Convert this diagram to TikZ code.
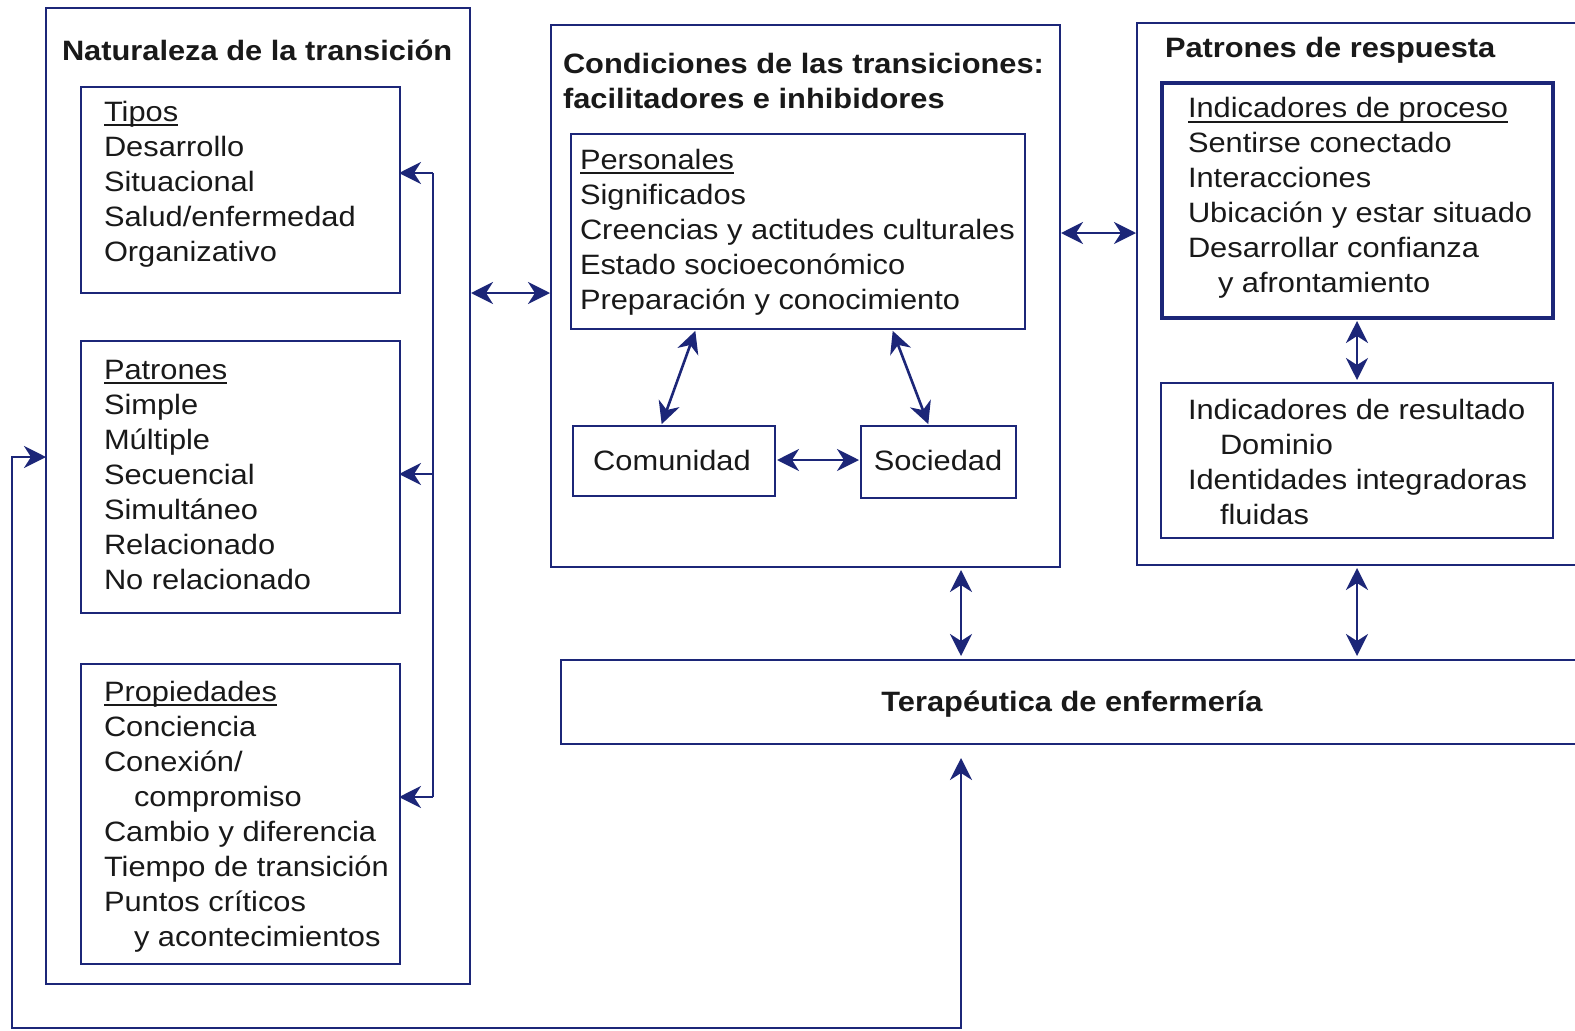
\documentclass[tikz,border=0pt]{standalone}
\usepackage{fontspec}
\setmainfont{Liberation Sans}[FakeStretch=1.1]
\usetikzlibrary{arrows.meta}
\definecolor{navy}{RGB}{28,38,120}
\definecolor{ink}{RGB}{25,25,25}
\newcommand{\ulx}[1]{{\setbox0\hbox{#1}\rlap{\rule[-5pt]{\wd0}{1.8pt}}\box0}}
\newcommand{\fl}{\rule{0pt}{25pt}}
\newcommand{\ind}{\hspace*{30pt}}
\begin{document}
\begin{tikzpicture}[x=1pt,y=-1pt,
  boxn/.style={draw=navy, line width=2.6pt, inner sep=0pt, outer sep=0pt, anchor=north west, fill=none},
  txt/.style={anchor=north west, inner sep=0pt, outer sep=0pt, align=left, text=ink, font=\fontsize{28}{35}\selectfont},
  ttl/.style={txt, font=\fontsize{28}{35}\selectfont\bfseries},
  lbl/.style={anchor=base, inner sep=0pt, text=ink, font=\fontsize{28}{35}\selectfont},
  conn/.style={draw=navy, line width=2.6pt},
  arr/.style={conn, -{Stealth[length=22pt, width=22pt, inset=7pt]}},
  darr/.style={conn, {Stealth[length=22pt, width=22pt, inset=7pt]}-{Stealth[length=22pt, width=22pt, inset=7pt]}}
]
\path[use as bounding box] (0,0) rectangle (1575,1031);
\clip (0,0) rectangle (1575,1031);
\fill[white] (0,0) rectangle (1575,1031);

% ---- boxes ----
\node[boxn, minimum width=424pt, minimum height=976pt] (nat) at (46,8) {};
\node[boxn, minimum width=319pt, minimum height=206pt] (tipos) at (81,87) {};
\node[boxn, minimum width=319pt, minimum height=272pt] (patr) at (81,341) {};
\node[boxn, minimum width=319pt, minimum height=300pt] (prop) at (81,664) {};
\node[boxn, minimum width=509pt, minimum height=542pt] (cond) at (551,25) {};
\node[boxn, minimum width=454pt, minimum height=195pt] (pers) at (571,134) {};
\node[boxn, minimum width=202pt, minimum height=70pt] (com) at (573,426) {};
\node[boxn, minimum width=155pt, minimum height=72pt] (soc) at (861,426) {};
\node[boxn, minimum width=470pt, minimum height=542pt] (resp) at (1137,23) {};
\node[boxn, line width=3.2pt, minimum width=391pt, minimum height=235pt] (proc) at (1162,83) {};
\node[boxn, minimum width=392pt, minimum height=155pt] (res) at (1161,383) {};
\node[boxn, minimum width=1060pt, minimum height=84pt] (ter) at (561,660) {};

% ---- texts ----
\node[ttl] (natT) at (62,35) {\fl Naturaleza de la transición};
\node[txt] (tiposT) at (104,96) {\fl\ulx{Tipos}\\Desarrollo\\Situacional\\Salud/enfermedad\\Organizativo};
\node[txt] (patrT) at (104,354) {\fl\ulx{Patrones}\\Simple\\Múltiple\\Secuencial\\Simultáneo\\Relacionado\\No relacionado};
\node[txt] (propT) at (104,676) {\fl\ulx{Propiedades}\\Conciencia\\Conexión/\\\ind compromiso\\Cambio y diferencia\\Tiempo de transición\\Puntos críticos\\\ind y acontecimientos};
\node[ttl] (condT) at (563,48) {\fl Condiciones de las transiciones:\\facilitadores e inhibidores};
\node[txt] (persT) at (580,144) {\fl\ulx{Personales}\\Significados\\Creencias y actitudes culturales\\Estado socioeconómico\\Preparación y conocimiento};
\node[lbl] (comT) at (672,470) {Comunidad};
\node[lbl] (socT) at (938,470) {Sociedad};
\node[ttl] (respT) at (1165,32) {\fl Patrones de respuesta};
\node[txt] (procT) at (1188,92.5) {\fl\ulx{Indicadores de proceso}\\Sentirse conectado\\Interacciones\\Ubicación y estar situado\\Desarrollar confianza\\\ind y afrontamiento};
\node[txt] (resT) at (1188,394) {\fl Indicadores de resultado\\\hspace*{32pt}Dominio\\Identidades integradoras\\\hspace*{32pt}fluidas};
\node[lbl, font=\fontsize{28}{35}\selectfont\bfseries] (terT) at (1072,711) {Terapéutica de enfermería};

% ---- connectors ----
\coordinate (bus1) at (433,173);
\coordinate (bus2) at (433,474);
\coordinate (bus3) at (433,797);
\draw[conn] (bus1) -- (bus3);
\draw[arr, shorten >=-1pt] (bus1) -- (tipos.east |- bus1);
\draw[arr, shorten >=-1pt] (bus2) -- (patr.east |- bus2);
\draw[arr, shorten >=-1pt] (bus3) -- (prop.east |- bus3);

\draw[darr, shorten <=1pt, shorten >=1pt] (nat.east |- 0,293) -- (cond.west |- 0,293);
\draw[darr, shorten <=2pt, shorten >=2pt] (pers.south -| 696,0) -- (com.north -| 661,0);
\draw[darr, shorten <=2pt, shorten >=2pt] (pers.south -| 892,0) -- (soc.north -| 929,0);
\draw[darr, shorten <=2pt, shorten >=2pt] (com.east |- 0,460) -- (soc.west |- 0,460);
\draw[darr, shorten <=1pt, shorten >=1pt] (cond.east |- 0,233) -- (resp.west |- 0,233);
\draw[darr, shorten <=3pt, shorten >=3pt] (proc.south -| 1357,0) -- (res.north -| 1357,0);
\draw[darr, shorten <=3pt, shorten >=4pt] (cond.south -| 961,0) -- (ter.north -| 961,0);
\draw[darr, shorten <=3pt, shorten >=4pt] (resp.south -| 1357,0) -- (ter.north -| 1357,0);

\coordinate (fbA) at (961,1028);
\coordinate (fbB) at (12,1028);
\coordinate (fbC) at (12,457);
\draw[darr, line join=miter, shorten <=14pt] (ter.south -| fbA) -- (fbA) -- (fbB) -- (fbC) -- (nat.west |- fbC);
\end{tikzpicture}
\end{document}
